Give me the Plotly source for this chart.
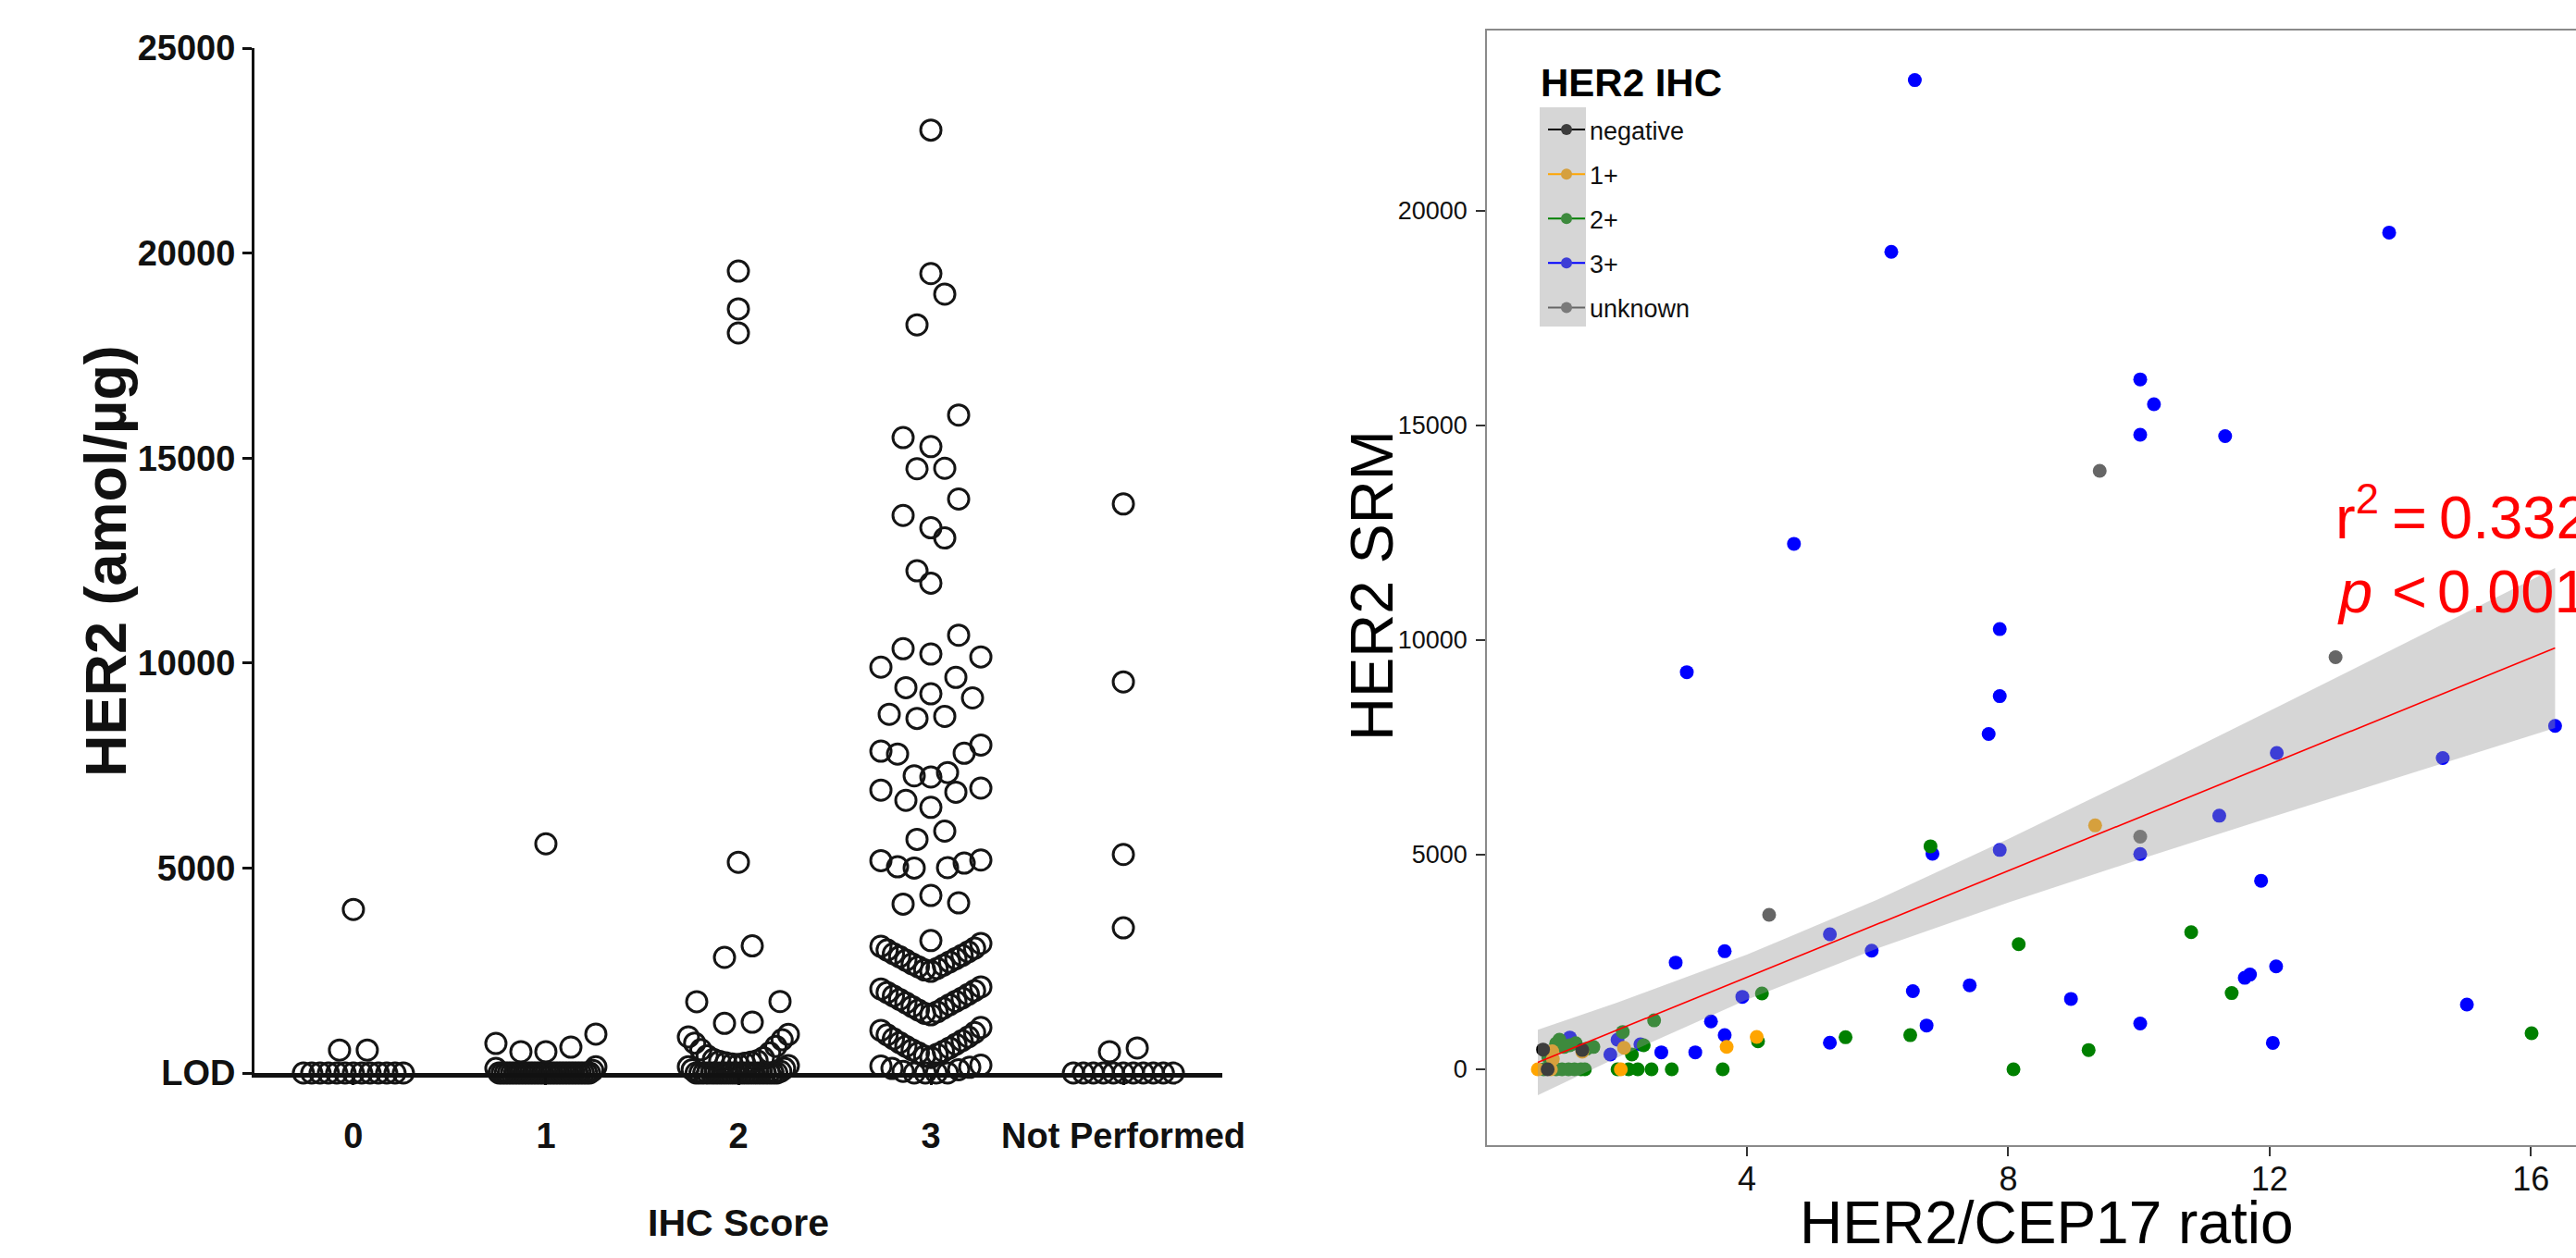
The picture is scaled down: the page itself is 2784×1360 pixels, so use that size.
import math
import plotly.graph_objects as go

W, H = 2784, 1360
FONT = "Liberation Sans"

# ---------------- Left panel data (HER2 amol/ug by IHC score, 0 = LOD) ----------------
categories = ["0", "1", "2", "3", "Not Performed"]
ihc0 = [0, 0, 0, 0, 0, 0, 0, 0, 0, 0, 0, 0, 0, 560, 560, 3990]
ihc1 = [0, 0, 0, 0, 0, 0, 0, 0, 0, 0, 0, 0, 0, 0, 0, 0, 0, 0, 0, 0,
        0, 0, 0, 0, 0, 0, 0, 0, 0, 0, 60, 110, 150,
        520, 520, 630, 720, 950, 5590]
ihc2 = [0, 0, 0, 0, 0, 0, 0, 0, 0, 0, 0, 0, 0, 0, 0, 0, 0, 0, 0, 0, 0, 0,
        40, 80, 110, 150, 180,
        210, 220, 235, 250, 265, 280, 300, 330, 370, 420, 490, 570, 650, 730, 810, 880, 940,
        1210, 1240, 1740, 1745, 2820, 3100, 5140, 18050, 18640, 19560]
ihc3 = [0, 0, 0, 0, 40, 80, 110, 140, 170, 190,
        380, 410, 455, 490, 530, 565, 610, 650, 700, 740, 790, 835, 880, 930, 985, 1040, 1110,
        1420, 1455, 1490, 1535, 1580, 1620, 1665, 1710, 1750, 1795, 1830, 1880, 1920, 1965, 2010, 2050, 2100,
        2480, 2515, 2550, 2590, 2630, 2665, 2710, 2750, 2790, 2835, 2870, 2910, 2955, 3000, 3045, 3090, 3160,
        3230, 4120, 4150, 4330, 5000, 5010, 5030, 5120, 5180, 5195, 5700, 5900,
        6480, 6650, 6850, 6900, 6950, 7220, 7250, 7330, 7780, 7800, 7850, 8000,
        8650, 8700, 8750, 9150, 9250, 9400, 9650, 9900, 10150, 10220, 10350, 10680,
        11950, 12250, 13050, 13300, 13600, 14000, 14740, 14750, 15280, 15500, 16050,
        18250, 19000, 19500, 23000]
ihc_np = [0, 0, 0, 0, 0, 0, 0, 0, 0, 0, 0, 520, 610, 3540, 5330, 9540, 13880]
left_columns = [ihc0, ihc1, ihc2, ihc3, ihc_np]
left_ticks = [0, 5000, 10000, 15000, 20000, 25000]
left_ticktext = ["LOD", "5000", "10000", "15000", "20000", "25000"]

# ---------------- Right panel data (HER2 SRM vs HER2/CEP17 ratio) ----------------
neg_x = [0.88, 1.48, 0.95]
neg_y = [460, 450, 0]
p1_x = [0.80, 1.00, 1.02, 1.03, 1.48, 2.07, 2.12, 3.69, 4.15, 9.33]
p1_y = [0, 0, 420, 240, 410, 0, 500, 524, 754, 5682]
p2_x = [0.89, 1.08, 1.17, 1.27, 1.36, 1.46, 1.52,
        0.96, 1.08, 1.20, 1.29, 1.65, 1.13, 1.38, 1.55,
        2.02, 2.19, 2.33, 2.54, 2.85, 3.63, 8.08,
        2.10, 2.24, 2.42, 2.58, 4.17, 4.23, 5.51, 6.50, 6.81, 8.16, 9.23, 10.80, 11.42, 16.01]
p2_y = [0, 0, 0, 0, 0, 0, 0,
        280, 600, 520, 560, 520, 690, 610, 480,
        0, 0, 0, 0, 0, 0, 0,
        870, 345, 560, 1140, 653, 1767, 747, 795, 5196, 2916, 449, 3196, 1776, 841]
p3_x = [6.57, 6.21, 13.83, 10.02, 10.23, 10.02, 11.32, 4.72, 7.87, 3.08, 7.87, 7.70, 16.37, 14.65,
        12.11, 11.23, 6.84, 7.87, 10.02, 11.87, 5.27, 5.91, 2.91, 3.66, 12.10, 11.62, 11.70, 7.41,
        6.54, 8.96, 3.93, 15.02, 3.45, 6.75, 10.02, 3.66, 5.27, 12.05, 3.21, 2.69, 2.02, 1.91, 2.37, 1.29]
p3_y = [23045, 19045, 19494, 16073, 15494, 14784, 14750, 12242, 10255, 9252, 8693, 7811, 7999, 7250,
        7370, 5908, 5020, 5110, 5015, 4393, 3146, 2763, 2486, 2751, 2396, 2131, 2207, 1958,
        1820, 1640, 1688, 1510, 1114, 1020, 1067, 797, 618, 616, 395, 395, 690, 345, 582, 740]
unk_x = [9.40, 13.01, 10.02, 4.34]
unk_y = [13943, 9600, 5420, 3600]

fit_x = [0.80, 2, 4, 6, 8, 10, 12, 14, 16.37]
fit_y = [161, 905, 2145, 3385, 4625, 5865, 7105, 8345, 9814]
ci_upper = [923, 1547, 2670, 3952, 5365, 6843, 8349, 9868, 11678]
ci_lower = [-601, 263, 1620, 2818, 3885, 4887, 5861, 6822, 7950]

groups = ["negative", "1+", "2+", "3+", "unknown"]
group_colors = ["#000000", "#FFA500", "#008000", "#0000FF", "#666666"]
group_key_colors = ["#3d3d3d", "#d6a03d", "#3d8a3d", "#3d3dd6", "#7a7a7a"]
right_xticks = [4, 8, 12, 16]
right_yticks = [0, 5000, 10000, 15000, 20000]
right_yticktext = ["0", "5000", "10000", "15000", "20000"]


def px_x(p):
    return p / W


def px_y(p):
    return 1 - p / H


# Prism-like column scatter layout: rows (bins) of 1000 units, spread centre-out
def column_positions(values, centre, bin_height=1000.0, bin_offset=200.0,
                     step_max=30 / 208, width_max=108 / 208):
    bins = {}
    for i, v in enumerate(values):
        bins.setdefault(math.floor((v - bin_offset) / bin_height), []).append(i)
    xs = [centre] * len(values)
    for idx in bins.values():
        idx = sorted(idx, key=lambda i: values[i])
        n = len(idx)
        step = step_max if n == 1 else min(step_max, width_max / (n - 1))
        slots = [(j - (n - 1) / 2) * step for j in range(n)]
        slots.sort(key=lambda s: (round(abs(s), 9), s))
        for i, s in zip(idx, slots):
            xs[i] = centre + s
    return xs


fig = go.Figure()

# Left panel circles
for ci, vals in enumerate(left_columns):
    fig.add_trace(go.Scatter(
        x=column_positions(vals, ci), y=vals, mode="markers",
        marker=dict(symbol="circle-open", size=22, color="#151515", line=dict(width=3)),
        cliponaxis=False, showlegend=False, xaxis="x", yaxis="y", hoverinfo="skip"))

# Right panel points
pts = {"3+": (p3_x, p3_y), "2+": (p2_x, p2_y), "1+": (p1_x, p1_y),
       "negative": (neg_x, neg_y), "unknown": (unk_x, unk_y)}
for g in ["3+", "2+", "1+", "negative", "unknown"]:
    gx, gy = pts[g]
    c = group_colors[groups.index(g)]
    fig.add_trace(go.Scatter(x=gx, y=gy, mode="markers", marker=dict(size=15, color=c),
                             showlegend=False, xaxis="x2", yaxis="y2"))

# Confidence ribbon drawn over points, then fit line
fig.add_trace(go.Scatter(x=fit_x + fit_x[::-1], y=ci_upper + ci_lower[::-1], fill="toself",
                         fillcolor="rgba(153,153,153,0.4)", line=dict(width=0), mode="lines",
                         showlegend=False, xaxis="x2", yaxis="y2", hoverinfo="skip"))
fig.add_trace(go.Scatter(x=fit_x, y=fit_y, mode="lines", line=dict(color="#FF0000", width=1.6),
                         showlegend=False, xaxis="x2", yaxis="y2"))

# Legend entries
for g, c, kc in zip(groups, group_colors, group_key_colors):
    fig.add_trace(go.Scatter(x=[None], y=[None], mode="lines+markers", name=g, legendgroup=g,
                             line=dict(color=c, width=2), marker=dict(color=kc, size=12),
                             xaxis="x2", yaxis="y2"))

RED = "#FF0000"
RS = 65
annotations = [
    dict(text="HER2 (amol/µg)", x=px_x(114), y=px_y(607), textangle=-90,
         font=dict(family=FONT, size=63, color="#111", weight="bold")),
    dict(text="IHC Score", x=px_x(798), y=px_y(1322),
         font=dict(family=FONT, size=41, color="#111", weight="bold")),
    dict(text="HER2 SRM", x=px_x(1482), y=px_y(633), textangle=-90,
         font=dict(family=FONT, size=65, color="#000")),
    dict(text="HER2/CEP17 ratio", x=px_x(2212), y=px_y(1322),
         font=dict(family=FONT, size=64, color="#000")),
    dict(text="HER2 IHC", x=px_x(1663), y=px_y(90), xanchor="left",
         font=dict(family=FONT, size=42, color="#000", weight="bold")),
    dict(text="r<sup>2</sup>", x=px_x(2522), y=px_y(598), xanchor="left", yanchor="bottom",
         font=dict(family=FONT, size=RS, color=RED)),
    dict(text="=", x=px_x(2583), y=px_y(598), xanchor="left", yanchor="bottom",
         font=dict(family=FONT, size=RS, color=RED)),
    dict(text="0.332", x=px_x(2634), y=px_y(598), xanchor="left", yanchor="bottom",
         font=dict(family=FONT, size=RS, color=RED)),
    dict(text="<i>p</i>", x=px_x(2524), y=px_y(678), xanchor="left", yanchor="bottom",
         font=dict(family=FONT, size=RS, color=RED)),
    dict(text="&lt;", x=px_x(2583), y=px_y(678), xanchor="left", yanchor="bottom",
         font=dict(family=FONT, size=RS, color=RED)),
    dict(text="0.001", x=px_x(2632), y=px_y(678), xanchor="left", yanchor="bottom",
         font=dict(family=FONT, size=RS, color=RED)),
]
for a in annotations:
    a.update(xref="paper", yref="paper", showarrow=False)
    a.setdefault("xanchor", "center")
    a.setdefault("yanchor", "middle")

shapes = [dict(type="rect", xref="paper", yref="paper", x0=px_x(1664), x1=px_x(1714),
               y0=px_y(353), y1=px_y(116), fillcolor="#d6d6d6", line=dict(width=0), layer="below")]

fig.update_layout(
    width=W, height=H, margin=dict(l=0, r=0, t=0, b=0, autoexpand=False),
    paper_bgcolor="white", plot_bgcolor="rgba(0,0,0,0)",
    annotations=annotations, shapes=shapes,
    xaxis=dict(domain=[px_x(275), px_x(1321)], range=[-0.514, 4.514], tickvals=list(range(5)),
               ticktext=categories, ticks="outside", ticklen=8, tickwidth=2.5, tickcolor="#111",
               showline=True, linewidth=5, linecolor="#111", showgrid=False, zeroline=False,
               ticklabelstandoff=22, anchor="y", automargin=False,
               tickfont=dict(family=FONT, size=38, color="#111", weight="bold")),
    yaxis=dict(domain=[px_y(1160), px_y(52)], range=[0, 25000], tickvals=left_ticks,
               ticktext=left_ticktext, ticks="outside", ticklen=10, tickwidth=3, tickcolor="#111",
               showline=True, linewidth=3, linecolor="#111", showgrid=False, zeroline=False,
               anchor="x", automargin=False,
               tickfont=dict(family=FONT, size=38, color="#111", weight="bold")),
    xaxis2=dict(domain=[px_x(1607), 1.0], range=[0.021, 16.69], tickvals=right_xticks,
                ticks="outside", ticklen=10, tickwidth=1.5, tickcolor="#333", showline=True,
                mirror=True, linewidth=1.5, linecolor="#8a8a8a", showgrid=False, zeroline=False,
                anchor="y2", ticklabelstandoff=-6, automargin=False,
                tickfont=dict(family=FONT, size=36, color="#111")),
    yaxis2=dict(domain=[px_y(1238), px_y(33)], range=[-1767, 24200], tickvals=right_yticks,
                ticktext=right_yticktext,
                ticks="outside", ticklen=10, tickwidth=1.5, tickcolor="#333", showline=True,
                linewidth=1.5, linecolor="#8a8a8a", showgrid=False, zeroline=False,
                anchor="x2", automargin=False, ticklabelstandoff=4,
                tickfont=dict(family=FONT, size=27, color="#111")),
    legend=dict(x=px_x(1668), y=px_y(116), xanchor="left", yanchor="top",
                bgcolor="rgba(0,0,0,0)", traceorder="grouped", tracegroupgap=10,
                itemwidth=40, font=dict(family=FONT, size=27, color="#111")),
)

fig.write_html("out.html", config={"displayModeBar": False},
               post_script="document.body.style.margin='0';document.body.style.overflow='hidden';")
